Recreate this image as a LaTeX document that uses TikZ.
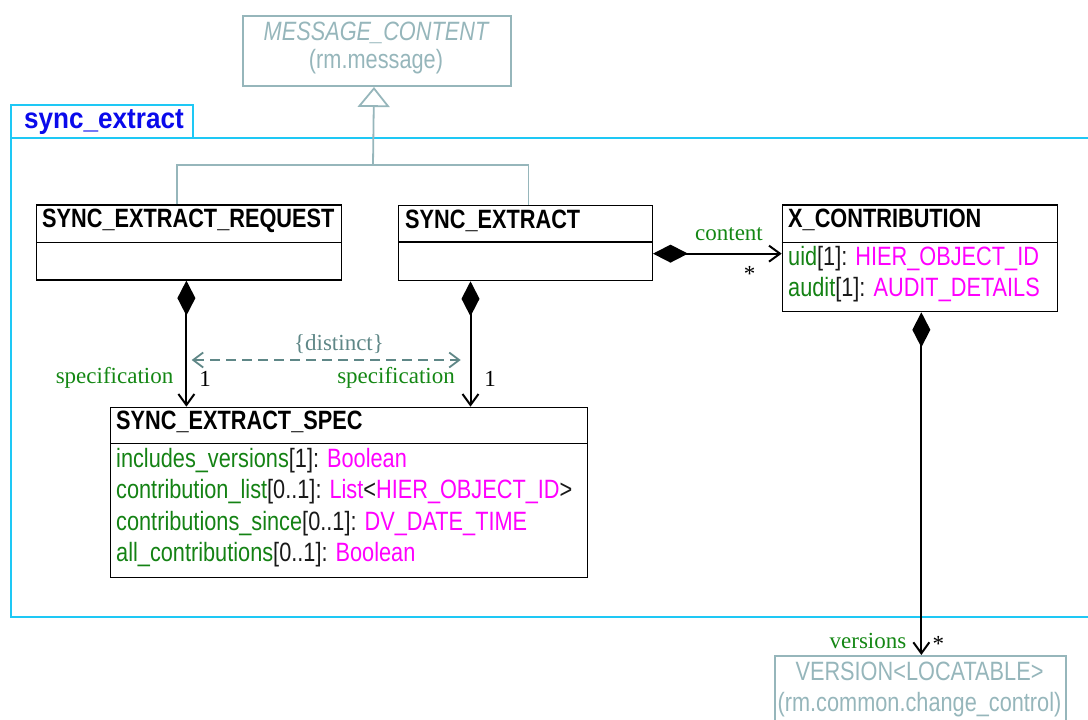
\documentclass[tikz,border=0pt]{standalone}
\usepackage{fontspec}
\setmainfont{Liberation Sans}[FakeStretch=0.82]
\newfontfamily\pkgfont{Liberation Sans Bold}[FakeStretch=0.9]
\newfontfamily\tms{Liberation Serif}
\usetikzlibrary{arrows.meta}
\definecolor{pkgcyan}{RGB}{30,200,245}
\definecolor{pkgblue}{RGB}{10,10,235}
\definecolor{extgray}{RGB}{150,182,187}
\definecolor{dashcol}{RGB}{95,135,135}
\definecolor{attrgreen}{RGB}{20,130,20}
\definecolor{labgreen}{RGB}{20,135,20}
\definecolor{typemag}{RGB}{255,0,255}
\definecolor{txtdark}{RGB}{25,25,25}
\begin{document}
\begin{tikzpicture}[x=1pt,y=-1pt,
  classbox/.style={draw=black, line width=1.3pt, anchor=north west, inner sep=0pt},
  extbox/.style={draw=extgray, line width=2pt, anchor=north west, inner sep=0pt},
  pkgline/.style={draw=pkgcyan, line width=2pt, anchor=north west, inner sep=0pt},
  title/.style={anchor=base west, inner sep=0pt, text=black, font=\fontsize{26.5}{30}\selectfont\bfseries},
  attr/.style={anchor=base west, inner sep=0pt, text=txtdark, font=\fontsize{26.5}{30}\selectfont},
  exttext/.style={anchor=base, inner sep=0pt, text=extgray, font=\fontsize{26.5}{30}\selectfont},
  lbl/.style={inner sep=0pt, font=\tms\fontsize{23}{27}\selectfont},
  comp/.style={line width=2pt, {Diamond[length=35pt,width=18pt]}-{Straight Barb[length=11pt,width=16pt]}},
  divider/.style={line width=1.3pt},
]
\useasboundingbox (0,0) rectangle (1088,720);

% package
\node[pkgline, minimum width=182pt, minimum height=33pt] (pkgtab) at (10,104) {};
\node[pkgline, minimum width=1082pt, minimum height=479pt] (pkg) at (10,137) {};
\node[anchor=base west, inner sep=0pt, text=pkgblue, font=\pkgfont\fontsize{29}{32}\selectfont] (pkgname) at (24,128) {sync\_extract};

% external classes
\node[extbox, minimum width=268pt, minimum height=70pt] (mc) at (242,15) {};
\node[exttext, font=\fontsize{26.5}{30}\selectfont\itshape] (mct1) at (376,40) {MESSAGE\_CONTENT};
\node[exttext] (mct2) at (376,68) {(rm.message)};

\node[extbox, minimum width=291pt, minimum height=75pt] (ver) at (774,655) {};
\node[exttext] (vert1) at (919.5,680) {VERSION\textless LOCATABLE\textgreater};
\node[exttext] (vert2) at (919.5,711) {(rm.common.change\_control)};

% classes
\node[classbox, minimum width=304.7pt, minimum height=75pt] (req) at (36,204.3) {};
\draw[divider] ([yshift=-38pt]req.north west) -- ([yshift=-38pt]req.north east);
\node[title] (reqt) at (42,227.5) {SYNC\_EXTRACT\_REQUEST};

\node[classbox, minimum width=253.7pt, minimum height=75pt] (ext) at (398,205) {};
\node[title] (extt) at (405,228.5) {SYNC\_EXTRACT};
\draw[divider] ([yshift=-37pt]ext.north west) -- ([yshift=-37pt]ext.north east);

\node[classbox, minimum width=275pt, minimum height=106.7pt] (xc) at (781.7,204.3) {};
\draw[divider] ([yshift=-38pt]xc.north west) -- ([yshift=-38pt]xc.north east);
\node[title] (xct) at (788,227.5) {X\_CONTRIBUTION};
\node[attr] (xa1) at (788,265) {\textcolor{attrgreen}{uid}[1]: \textcolor{typemag}{HIER\_OBJECT\_ID}};
\node[attr] (xa2) at (788,296.5) {\textcolor{attrgreen}{audit}[1]: \textcolor{typemag}{AUDIT\_DETAILS}};

\node[classbox, minimum width=476.7pt, minimum height=170pt] (spec) at (110,406.7) {};
\draw[divider] ([yshift=-36.6pt]spec.north west) -- ([yshift=-36.6pt]spec.north east);
\node[title] (spect) at (116,429.5) {SYNC\_EXTRACT\_SPEC};
\node[attr] (sa1) at (116,467) {\textcolor{attrgreen}{includes\_versions}[1]: \textcolor{typemag}{Boolean}};
\node[attr] (sa2) at (116,498.5) {\textcolor{attrgreen}{contribution\_list}[0..1]: \textcolor{typemag}{List}\textless\textcolor{typemag}{HIER\_OBJECT\_ID}\textgreater};
\node[attr] (sa3) at (116,530) {\textcolor{attrgreen}{contributions\_since}[0..1]: \textcolor{typemag}{DV\_DATE\_TIME}};
\node[attr] (sa4) at (116,561.5) {\textcolor{attrgreen}{all\_contributions}[0..1]: \textcolor{typemag}{Boolean}};

% generalization
\coordinate (gj) at (373,165);
\coordinate (g1) at ([xshift=-12.35pt]req.north);
\coordinate (g2) at ([xshift=3pt]ext.north);
\draw[draw=extgray, line width=1.8pt, {Triangle[open, length=20pt, width=32pt]}-] ([xshift=-3pt]mc.south) -- (gj);
\draw[draw=extgray, line width=1.8pt] (g1) |- (gj) -| (g2);

% compositions
\coordinate (c1) at ([yshift=-10.5pt]ext.east);
\draw[comp] (c1) -- (c1 -| xc.west);
\node[lbl, anchor=base, text=labgreen] (cont) at (729,240) {content};
\node[lbl, anchor=base, text=black] (st1) at (749.5,281) {*};

\coordinate (r1) at ([xshift=-2.6pt]req.south);
\draw[comp] (r1) -- (r1 |- spec.north);
\node[lbl, anchor=base east, text=labgreen] (sp1) at (173.5,383) {specification};
\node[lbl, anchor=base, text=black] (m1) at (205,386) {1};

\coordinate (e1) at ([xshift=-55pt]ext.south);
\draw[comp] (e1) -- (e1 |- spec.north);
\node[lbl, anchor=base east, text=labgreen] (sp2) at (455,383) {specification};
\node[lbl, anchor=base, text=black] (m2) at (490,386) {1};

\coordinate (x1) at ([xshift=1.5pt]xc.south);
\draw[comp] (x1) -- (x1 |- ver.north);
\node[lbl, anchor=base east, text=labgreen] (vers) at (906.5,648) {versions};
\node[lbl, anchor=base, text=black] (st2) at (938.3,651) {*};

% distinct constraint
\coordinate (d1) at (191.7,360);
\coordinate (d2) at (460.7,360);
\draw[draw=dashcol, line width=1.8pt, dash pattern=on 10pt off 6pt, {Straight Barb[length=10pt,width=15pt]}-{Straight Barb[length=10pt,width=15pt]}] (d1) -- (d2);
\node[lbl, anchor=base, text=dashcol] (dist) at (339,350) {\{distinct\}};
\end{tikzpicture}
\end{document}
